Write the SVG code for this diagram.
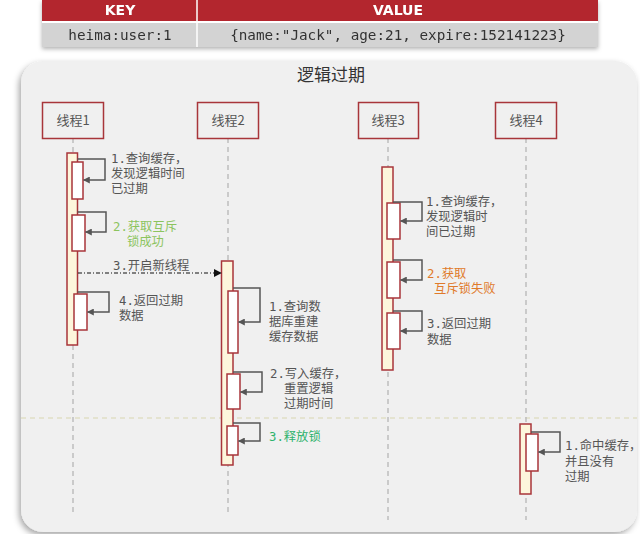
<svg xmlns="http://www.w3.org/2000/svg" width="640" height="534" viewBox="0 0 640 534">
<defs>
<style>
.cell{font-family:"DejaVu Sans Mono","Liberation Mono",monospace;font-size:14.3px;fill:#333;text-anchor:middle}
.hd{font-family:"DejaVu Sans","Liberation Sans",sans-serif;font-size:14px;font-weight:bold;fill:#fff;text-anchor:middle}
.head rect{fill:#f0f0f0;stroke:#a8353a;stroke-width:1.5}
.head text{font-family:"Noto Sans CJK SC","Noto Sans",sans-serif;font-size:13px;fill:#555;text-anchor:middle}
.life{stroke:#bdbdbd;stroke-width:1.5;stroke-dasharray:5 4;fill:none}
.act{fill:#fdf6dc;stroke:#a8353a;stroke-width:1.5}
.sub{fill:#fff;stroke:#a8353a;stroke-width:1.5}
.loop{fill:none;stroke:#555;stroke-width:1.5;marker-end:url(#ah)}
.t{font-family:"DejaVu Sans Mono","Noto Sans CJK SC",monospace;font-size:12.3px;fill:#555}
.g1{fill:#8cc45e}
.g2{fill:#2eb36c}
.or{fill:#e07a2a}
</style>
<marker id="ah" viewBox="0 0 10 10" refX="9" refY="5" markerWidth="7" markerHeight="7" markerUnits="userSpaceOnUse" orient="auto">
<path d="M0,0 L10,5 L0,10 z" fill="#555"/>
</marker>
<marker id="ahb" viewBox="0 0 10 10" refX="9" refY="5" markerWidth="8" markerHeight="8" markerUnits="userSpaceOnUse" orient="auto">
<path d="M0,0 L10,5 L0,10 z" fill="#111"/>
</marker>
<filter id="sh" x="-10%" y="-10%" width="120%" height="120%">
<feDropShadow dx="-2" dy="3" stdDeviation="3" flood-color="#000" flood-opacity="0.35"/>
</filter>
<filter id="sh2" x="-5%" y="-20%" width="110%" height="160%">
<feDropShadow dx="0" dy="2" stdDeviation="2" flood-color="#000" flood-opacity="0.3"/>
</filter>
</defs>
<rect width="640" height="534" fill="#fff"/>

<g id="table" filter="url(#sh2)">
<rect x="42" y="0" width="556" height="47" fill="#d3d3d3"/>
<rect x="42" y="0" width="556" height="21" fill="#b3282d"/>
<line x1="42" y1="22" x2="598" y2="22" stroke="#fff" stroke-width="2"/>
<line x1="197" y1="0" x2="197" y2="47" stroke="#fff" stroke-width="1.5"/>
<text class="hd" x="120" y="15">KEY</text>
<text class="hd" x="398" y="15">VALUE</text>
<text class="cell" x="120" y="40">heima:user:1</text>
<text class="cell" x="398" y="40">{name:"Jack", age:21, expire:152141223}</text>
</g>

<g id="panel">
<rect x="21" y="61" width="616" height="471" rx="22" fill="#f0f0f0" filter="url(#sh)"/>
<text x="331" y="81" font-family="Noto Sans CJK SC, Noto Sans, sans-serif" font-size="17" fill="#333" text-anchor="middle">逻辑过期</text>
<line x1="21" y1="418" x2="637" y2="418" stroke="#d8d6b0" stroke-width="1" stroke-dasharray="5 4"/>
</g>

<g id="lifelines">
<line class="life" x1="73" y1="138" x2="73" y2="512"/>
<line class="life" x1="228" y1="138" x2="228" y2="512"/>
<line class="life" x1="388" y1="138" x2="388" y2="520"/>
<line class="life" x1="526" y1="138" x2="526" y2="520"/>
</g>

<g id="thread1" class="head"><rect x="42.5" y="102.5" width="61" height="36"/><text x="73" y="125">线程1</text></g>
<g id="thread2" class="head"><rect x="197.5" y="102.5" width="61" height="36"/><text x="228" y="125">线程2</text></g>
<g id="thread3" class="head"><rect x="358.5" y="102.5" width="60" height="36"/><text x="388" y="125">线程3</text></g>
<g id="thread4" class="head"><rect x="495.5" y="102.5" width="61" height="36"/><text x="526" y="125">线程4</text></g>

<g id="activation1">
<rect class="act" x="67" y="153" width="10.5" height="192"/>
<rect class="sub" x="72" y="162" width="11" height="37"/>
<rect class="sub" x="72" y="215" width="13" height="36"/>
<rect class="sub" x="74" y="294" width="13" height="36"/>
<text class="t" x="111" y="163">1.查询缓存，</text>
<text class="t" x="111" y="178">发现逻辑时间</text>
<text class="t" x="111" y="193">已过期</text>
<text class="t g1" x="113" y="231">2.获取互斥</text>
<text class="t g1" x="127" y="246">锁成功</text>
<text class="t" x="119" y="305">4.返回过期</text>
<text class="t" x="119" y="320">数据</text>
</g>

<g id="activation2">
<rect class="act" x="221.5" y="261" width="11.5" height="204"/>
<rect class="sub" x="228" y="291" width="10" height="62"/>
<rect class="sub" x="227" y="374" width="13" height="35"/>
<rect class="sub" x="227" y="426" width="11" height="29"/>
<text class="t" x="269" y="311">1.查询数</text>
<text class="t" x="269" y="326">据库重建</text>
<text class="t" x="269" y="341">缓存数据</text>
<text class="t" x="270" y="378">2.写入缓存，</text>
<text class="t" x="284" y="393">重置逻辑</text>
<text class="t" x="284" y="408">过期时间</text>
<text class="t g2" x="269" y="441">3.释放锁</text>
</g>

<g id="activation3">
<rect class="act" x="382" y="167" width="11" height="203"/>
<rect class="sub" x="387" y="203" width="13" height="36"/>
<rect class="sub" x="387" y="262" width="13" height="36"/>
<rect class="sub" x="387" y="313" width="13" height="36"/>
<text class="t" x="426" y="206">1.查询缓存，</text>
<text class="t" x="426" y="221">发现逻辑时</text>
<text class="t" x="426" y="236">间已过期</text>
<text class="t or" x="427" y="278">2.获取</text>
<text class="t or" x="434" y="293">互斥锁失败</text>
<text class="t" x="427" y="328">3.返回过期</text>
<text class="t" x="427" y="344">数据</text>
</g>

<g id="activation4">
<rect class="act" x="520" y="424" width="11" height="70"/>
<rect class="sub" x="526" y="434" width="12" height="37"/>
<text class="t" x="565" y="450">1.命中缓存，</text>
<text class="t" x="565" y="466">并且没有</text>
<text class="t" x="565" y="481">过期</text>
</g>

<g id="connectors">
<path class="loop" d="M77.5,159 H105 V180 H83.5"/>
<path class="loop" d="M77.5,212 H106 V232 H85.5"/>
<path class="loop" d="M77.5,292 H109 V312 H87.5"/>
<path class="loop" d="M233,288 H260 V322 H238.5"/>
<path class="loop" d="M233,372 H262 V392 H240.5"/>
<path class="loop" d="M233,423 H260 V441 H238.5"/>
<path class="loop" d="M393,202 H422 V221 H400.5"/>
<path class="loop" d="M393,260 H422 V280 H400.5"/>
<path class="loop" d="M393,311 H422 V331 H400.5"/>
<path class="loop" d="M531,432 H560 V452 H538.5"/>
<path d="M78,273 H221" fill="none" stroke="#111" stroke-width="1.2" stroke-dasharray="4 2 1 2" marker-end="url(#ahb)"/>
<text class="t" x="113" y="270">3.开启新线程</text>
</g>
</svg>
